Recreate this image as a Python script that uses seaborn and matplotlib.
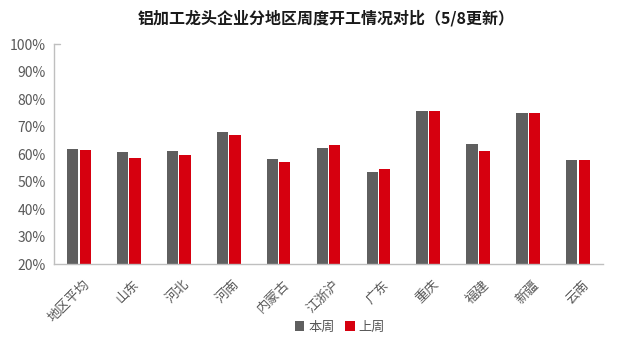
import matplotlib
matplotlib.use("Agg")
import matplotlib.pyplot as plt
import matplotlib.transforms as mtransforms
import seaborn as sns
import pandas as pd
from matplotlib.patches import Patch
from matplotlib.ticker import FuncFormatter, MultipleLocator

regions = ["地区平均", "山东", "河北", "河南", "内蒙古", "江浙沪", "广东", "重庆", "福建", "新疆", "云南"]
this_week = [62.0, 60.9, 61.3, 68.2, 58.4, 62.4, 53.6, 75.8, 63.8, 75.1, 57.9]
last_week = [61.6, 58.7, 59.8, 67.1, 57.3, 63.4, 54.7, 75.8, 61.3, 75.1, 57.9]
series_names = ["本周", "上周"]
colors = ["#5f5f5f", "#d6000f"]
title = "铝加工龙头企业分地区周度开工情况对比（5/8更新）"

df = pd.DataFrame({
    "region": regions * 2,
    "series": [series_names[0]] * len(regions) + [series_names[1]] * len(regions),
    "value": this_week + last_week,
})

sns.set_theme(style="white")
plt.rcParams["font.family"] = ["Noto Sans CJK SC", "DejaVu Sans"]

fig = plt.figure(figsize=(6.24, 3.44), dpi=100)
ax = fig.add_axes([54 / 624, 1 - 264 / 344, 549 / 624, 219.5 / 344])

sns.barplot(data=df, x="region", y="value", hue="series", order=regions,
            hue_order=series_names, palette=colors, width=0.5, gap=0.1,
            saturation=1, linewidth=0, ax=ax, legend=False)

ax.set_ylim(20, 100)
ax.set_xlim(-0.5, len(regions) - 0.5)
ax.yaxis.set_major_locator(MultipleLocator(10))
ax.yaxis.set_major_formatter(FuncFormatter(lambda v, _: f"{v:.0f}%"))
ax.set_xlabel("")
ax.set_ylabel("")

grey = "#bfbfbf"
text_col = "#595959"
for side in ["top", "right"]:
    ax.spines[side].set_visible(False)
for side in ["left", "bottom"]:
    ax.spines[side].set_color(grey)
    ax.spines[side].set_linewidth(1.0)

# y axis: labels only, no tick marks
ax.tick_params(axis="y", length=0, pad=6, labelsize=10, labelcolor=text_col)
# x axis: short inward ticks between categories
ax.set_xticks(range(len(regions)))
ax.set_xticklabels(regions, rotation=45, ha="right", rotation_mode="anchor")
ax.tick_params(axis="x", which="major", length=0, pad=10, labelsize=9.5, labelcolor=text_col)
shift = mtransforms.ScaledTranslation(4 / 100, 0, fig.dpi_scale_trans)
for lbl in ax.get_xticklabels():
    lbl.set_transform(lbl.get_transform() + shift)
ax.set_xticks([i + 0.5 for i in range(len(regions))], minor=True)
ax.tick_params(axis="x", which="minor", length=4, direction="in", color=grey, width=1)
# short cap at the top of the value axis
ax.axhline(100, xmin=0, xmax=0.011, color=grey, lw=1, clip_on=False)

fig.text(326 / 624, 1 - 18 / 344, title, ha="center", va="center",
         fontsize=11.5, fontweight="bold", color="#1a1a1a")

handles = [Patch(facecolor=c, edgecolor="none") for c in colors]
fig.legend(handles, series_names, loc="center", bbox_to_anchor=(340 / 624, 1 - 327 / 344),
           ncol=2, frameon=False, fontsize=9.5, labelcolor=text_col,
           handlelength=0.7, handleheight=0.7, handletextpad=0.3, columnspacing=0.8)

fig.savefig("out.png", dpi=100, facecolor="white")
